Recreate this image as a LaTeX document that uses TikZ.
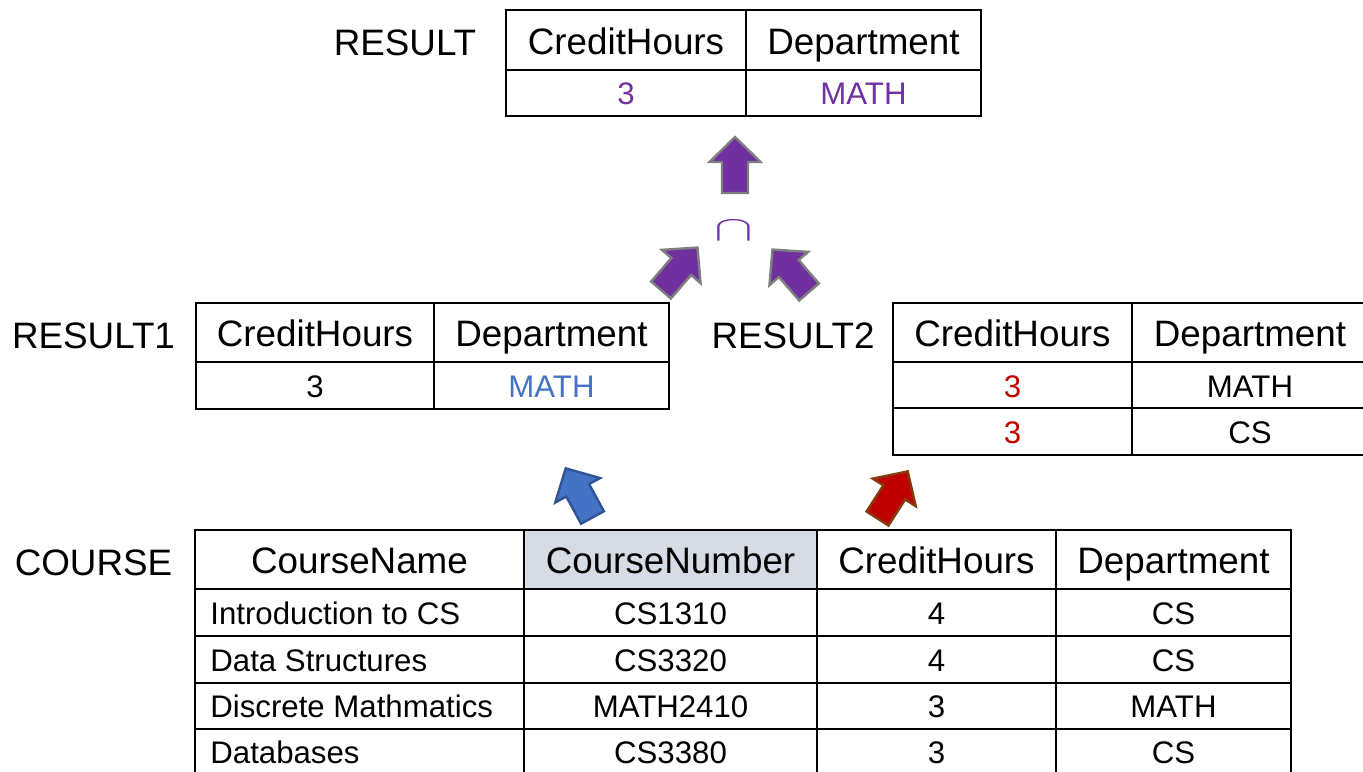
\documentclass[tikz,border=0pt]{standalone}
\usepackage{fontspec}
\setmainfont{Liberation Sans}
\definecolor{opPurple}{HTML}{7030A0}
\definecolor{keyBlue}{HTML}{4472C4}
\definecolor{keyBlueEdge}{HTML}{2F5597}
\definecolor{keyRed}{HTML}{C00000}
\definecolor{keyRedEdge}{HTML}{843C0C}
\definecolor{arrowEdge}{HTML}{7F7F7F}
\definecolor{keyShade}{HTML}{D6DCE5}

% block arrow: tail centre, direction angle, fill, outline
\newcommand\blockarrow[4]{%
  \draw[fatarrow, fill=#3, draw=#4, shift={(#1)}, rotate=#2]
    (0,13) -- (31,13) -- (31,25.5) -- (56,0) -- (31,-25.5) -- (31,-13) -- (0,-13) -- cycle;}

\begin{document}
\begin{tikzpicture}[x=0.5pt, y=-0.5pt,
  grid/.style={line width=1pt, black},
  head/.style={font=\fontsize{18.4}{22}\selectfont, inner sep=0pt, text height=13.2pt, text depth=0pt},
  cellt/.style={font=\fontsize{15.6}{19}\selectfont, inner sep=0pt, text height=11.2pt, text depth=0pt},
  fatarrow/.style={line width=1.2pt, line join=miter}]
\useasboundingbox (0,0) rectangle (1363,771);
\clip (0,0) rectangle (1363,771);

% ---------- RESULT ----------
\draw[grid] (506,10) rectangle (981,116);
\draw[grid] (506,70) -- (981,70);
\draw[grid] (746,10) -- (746,116);
\node[head] (lblR) at (405,42) {RESULT};
\node[head] (r-h1) at (626,41) {CreditHours};
\node[head] (r-h2) at (863.5,41) {Department};
\node[cellt, text=opPurple] (r-d1) at (626,93) {3};
\node[cellt, text=opPurple] (r-d2) at (863.5,93) {MATH};

% ---------- RESULT1 ----------
\draw[grid] (196,303) rectangle (669,409);
\draw[grid] (196,362) -- (669,362);
\draw[grid] (434,303) -- (434,409);
\node[head] (lblR1) at (93.5,335) {RESULT1};
\node[head] (a-h1) at (315,333.5) {CreditHours};
\node[head] (a-h2) at (551.5,333.5) {Department};
\node[cellt] (a-d1) at (315,386) {3};
\node[cellt, text=keyBlue] (a-d2) at (551.5,386) {MATH};

% ---------- RESULT2 ----------
\draw[grid] (893,303) rectangle (1370,455);
\draw[grid] (893,362) -- (1370,362);
\draw[grid] (893,408) -- (1370,408);
\draw[grid] (1132,303) -- (1132,455);
\node[head] (lblR2) at (793,335) {RESULT2};
\node[head] (b-h1) at (1012.5,333.5) {CreditHours};
\node[head] (b-h2) at (1250,333.5) {Department};
\node[cellt, text=keyRed] (b-d1) at (1012.5,386) {3};
\node[cellt] (b-d2) at (1250,386) {MATH};
\node[cellt, text=keyRed] (b-e1) at (1012.5,432.5) {3};
\node[cellt] (b-e2) at (1250,432.5) {CS};

% ---------- COURSE ----------
\fill[keyShade] (524,530) rectangle (817,589);
\draw[grid] (195,530) rectangle (1291,800);
\foreach \y in {589,636,683,729,776} \draw[grid] (195,\y) -- (1291,\y);
\foreach \x in {524,817,1056} \draw[grid] (\x,530) -- (\x,800);
\node[head] (lblC) at (93.5,562) {COURSE};
\node[head] (c-h1) at (359.5,560.5) {CourseName};
\node[head] (c-h2) at (670.5,560.5) {CourseNumber};
\node[head] (c-h3) at (936.5,560.5) {CreditHours};
\node[head] (c-h4) at (1173.5,560.5) {Department};
\node[cellt, anchor=west] (c-n1) at (210,613) {Introduction to CS};
\node[cellt, anchor=west] (c-n2) at (210,660) {Data Structures};
\node[cellt, anchor=west] (c-n3) at (210,706) {Discrete Mathmatics};
\node[cellt, anchor=west] (c-n4) at (210,752.5) {Databases};
\node[cellt] (c-u1) at (670.5,613) {CS1310};
\node[cellt] (c-u2) at (670.5,660) {CS3320};
\node[cellt] (c-u3) at (670.5,706) {MATH2410};
\node[cellt] (c-u4) at (670.5,752.5) {CS3380};
\node[cellt] (c-c1) at (936.5,613) {4};
\node[cellt] (c-c2) at (936.5,660) {4};
\node[cellt] (c-c3) at (936.5,706) {3};
\node[cellt] (c-c4) at (936.5,752.5) {3};
\node[cellt] (c-d1) at (1173.5,613) {CS};
\node[cellt] (c-d2) at (1173.5,660) {CS};
\node[cellt] (c-d3) at (1173.5,706) {MATH};
\node[cellt] (c-d4) at (1173.5,752.5) {CS};

% ---------- operator and flow arrows ----------
\node[text=opPurple, inner sep=0pt, font=\fontsize{24.7}{30}\selectfont] (cap) at (734,231) {\scalebox{1.17}[0.71]{$\cap$}};

\coordinate (tailTop) at (735,193);
\coordinate (tailL) at (661,290);
\coordinate (tailR) at (809,292);
\coordinate (tailBlue) at (592.5,517.5);
\coordinate (tailRed) at (877.5,518.5);
\blockarrow{tailTop}{90}{opPurple}{arrowEdge}
\blockarrow{tailL}{49.3}{opPurple}{arrowEdge}
\blockarrow{tailR}{130.7}{opPurple}{arrowEdge}
\blockarrow{tailBlue}{118.6}{keyBlue}{keyBlueEdge}
\blockarrow{tailRed}{57.3}{keyRed}{keyRedEdge}
\end{tikzpicture}
\end{document}
